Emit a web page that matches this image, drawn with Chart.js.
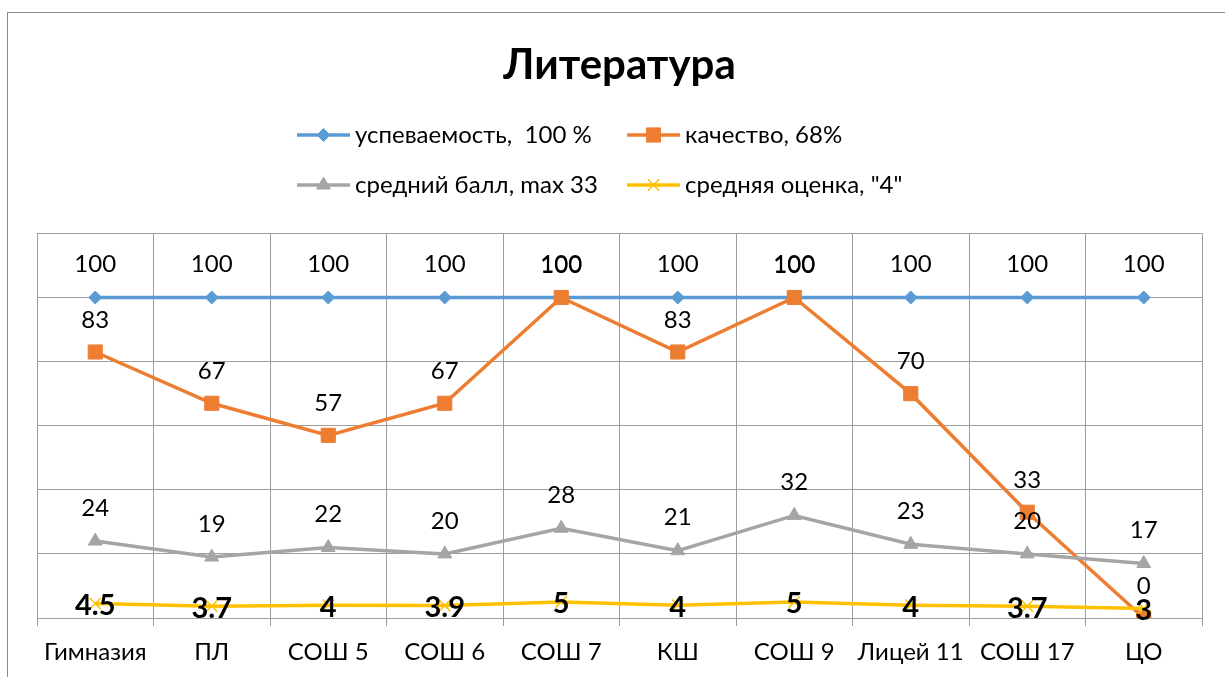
<!DOCTYPE html>
<html>
<head>
<meta charset="utf-8">
<script src="https://cdn.jsdelivr.net/npm/chart.js@4.4.1/dist/chart.umd.min.js"></script>
<style>
  html, body { margin: 0; padding: 0; background: #fff; overflow: hidden; }
  #wrap { position: relative; width: 1225px; height: 677px; }
  #frame { position: absolute; left: 7px; top: 12px; width: 1300px; height: 800px; border: 1px solid #8c8c8c; }
  canvas { position: absolute; left: 0; top: 0; }
</style>
</head>
<body>
<div id="wrap">
  <div id="frame"></div>
  <canvas id="chart" width="1225" height="677"></canvas>
</div>
<script>
'use strict';

// данные
const schools = ["Гимназия", "ПЛ", "СОШ 5", "СОШ 6", "СОШ 7", "КШ", "СОШ 9", "Лицей 11", "СОШ 17", "ЦО"];
const uspevaemost = [100, 100, 100, 100, 100, 100, 100, 100, 100, 100];
const kachestvo = [83, 67, 57, 67, 100, 83, 100, 70, 33, 0];
const sredniyBall = [24, 19, 22, 20, 28, 21, 32, 23, 20, 17];
const srednyayaOcenka = [4.5, 3.7, 4, 3.9, 5, 4, 5, 4, 3.7, 3];
const seriesNames = ["успеваемость,  100 %", "качество, 68%", "средний балл, max 33", "средняя оценка, \"4\""];

const FONT = "Lato, 'Liberation Sans', sans-serif";

/**
 * подписи значений над точками
 */
const valueLabels = {
  id: "valueLabels",
  afterDatasetsDraw(chart) {
    const ctx = chart.ctx;
    chart.data.datasets.forEach((ds, i) => {
      const meta = chart.getDatasetMeta(i);
      ctx.save();
      ctx.font = ds.labelFont;
      ctx.fillStyle = "#000";
      ctx.textAlign = "center";
      ctx.textBaseline = "middle";
      meta.data.forEach((pt, j) => {
        ctx.fillText(String(ds.data[j]), pt.x, pt.y + ds.labelOffset);
      });
      ctx.restore();
    });
  }
};

/**
 * легенда 2x2
 */
const gridLegend = {
  id: "gridLegend",
  afterDraw(chart) {
    const ctx = chart.ctx;
    const cols = [297, 627];
    const rows = [135, 185];
    chart.data.datasets.forEach((ds, i) => {
      const x = cols[i % 2];
      const y = rows[Math.floor(i / 2)];
      ctx.save();
      ctx.strokeStyle = ds.borderColor;
      ctx.lineWidth = 3.5;
      ctx.beginPath();
      ctx.moveTo(x, y);
      ctx.lineTo(x + 53, y);
      ctx.stroke();
      ctx.fillStyle = ds.pointBackgroundColor;
      ctx.strokeStyle = ds.pointBorderColor;
      ctx.lineWidth = ds.pointBorderWidth;
      Chart.helpers.drawPoint(ctx, {
        pointStyle: ds.pointStyle,
        radius: ds.pointRadius,
        rotation: 0,
        borderWidth: ds.pointBorderWidth
      }, x + 26.5, y);
      ctx.fillStyle = "#000";
      ctx.font = "24px " + FONT;
      ctx.textAlign = "left";
      ctx.textBaseline = "middle";
      ctx.fillText(ds.label, x + 58, y);
      ctx.restore();
    });
  }
};

new Chart(document.getElementById("chart"), {
  type: "line",
  data: {
    labels: schools,
    datasets: [{
      label: seriesNames[0],
      data: uspevaemost,
      borderColor: "#5b9bd5",
      pointBackgroundColor: "#5b9bd5",
      pointBorderColor: "#5b9bd5",
      pointBorderWidth: 1,
      pointStyle: "rectRot",
      pointRadius: 6.5,
      borderWidth: 3.5,
      order: 4,
      labelFont: "24px " + FONT,
      labelOffset: -33
    }, {
      label: seriesNames[1],
      data: kachestvo,
      borderColor: "#ed7d31",
      pointBackgroundColor: "#ed7d31",
      pointBorderColor: "#ed7d31",
      pointBorderWidth: 1,
      pointStyle: "rect",
      pointRadius: 10,
      borderWidth: 3.5,
      order: 3,
      labelFont: "24px " + FONT,
      labelOffset: -32
    }, {
      label: seriesNames[2],
      data: sredniyBall,
      borderColor: "#a5a5a5",
      pointBackgroundColor: "#a5a5a5",
      pointBorderColor: "#a5a5a5",
      pointBorderWidth: 1,
      pointStyle: "triangle",
      pointRadius: 8,
      borderWidth: 3.5,
      order: 2,
      labelFont: "24px " + FONT,
      labelOffset: -33
    }, {
      label: seriesNames[3],
      data: srednyayaOcenka,
      borderColor: "#ffc000",
      pointBackgroundColor: "#ffc000",
      pointBorderColor: "#ffc000",
      pointBorderWidth: 1.5,
      pointStyle: "crossRot",
      pointRadius: 8,
      borderWidth: 3.5,
      order: 1,
      labelFont: "bold 29px " + FONT,
      labelOffset: 2
    }]
  },
  options: {
    responsive: false,
    animation: false,
    devicePixelRatio: 1,
    layout: { padding: { left: 37, right: 23, top: 0, bottom: 0 } },
    plugins: {
      legend: { display: false },
      tooltip: { enabled: false },
      title: {
        display: true,
        text: "Литература",
        color: "#000",
        font: { family: FONT, size: 42, weight: "bold" },
        padding: { top: 40, bottom: 143 }
      }
    },
    scales: {
      x: {
        offset: true,
        grid: { color: "#9e9e9e", offset: true, tickLength: 8 },
        border: { color: "#9e9e9e" },
        ticks: { color: "#000", font: { family: FONT, size: 24 }, padding: 12, maxRotation: 0, autoSkip: false },
        afterFit(scale) { scale.height = 59; }
      },
      y: {
        min: 0,
        max: 120,
        ticks: { stepSize: 20, display: false },
        grid: { color: "#9e9e9e", drawTicks: false },
        border: { display: false }
      }
    }
  },
  plugins: [valueLabels, gridLegend]
});
</script>
</body>
</html>
